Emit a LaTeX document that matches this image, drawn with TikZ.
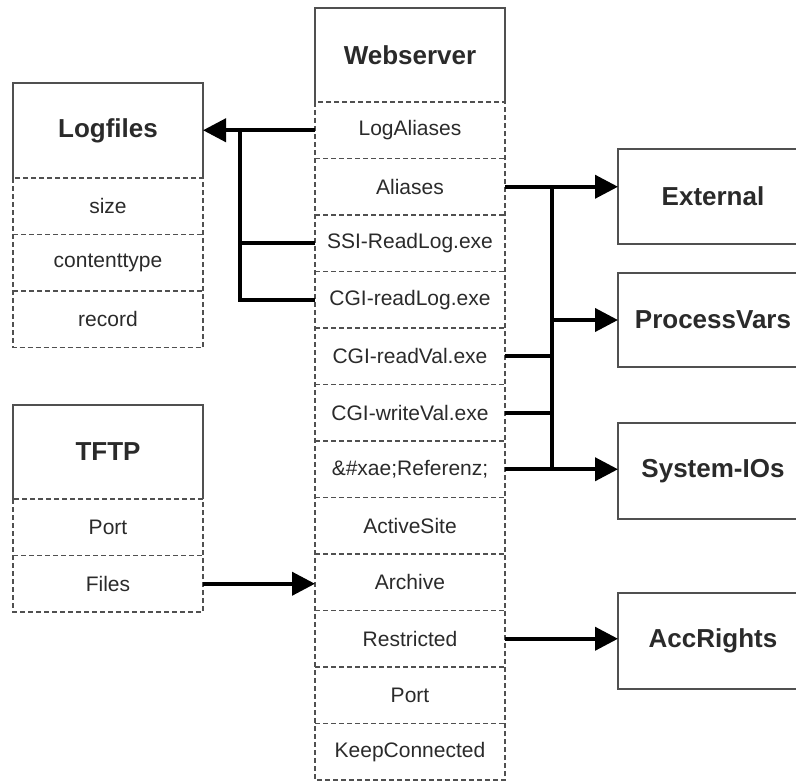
\documentclass[tikz,border=0pt]{standalone}
\usepackage{fontspec}
\setmainfont{Liberation Sans}
\usetikzlibrary{arrows.meta}
\definecolor{bordergray}{HTML}{505050}
\definecolor{textgray}{HTML}{2A2A2A}
\tikzset{
  hdr/.style={minimum width=190pt, minimum height=95pt, inner sep=0pt, outer sep=0pt, anchor=north west,
    font=\fontsize{26}{30}\selectfont\bfseries, text=textgray},
  boxed/.style={hdr, draw=bordergray, line width=1.5pt},
  rowbox/.style={minimum width=190pt, minimum height=56.5pt, inner sep=0pt, outer sep=0pt, anchor=north,
    font=\fontsize{21}{25}\selectfont, text=textgray},
  dashline/.style={draw=bordergray, line width=1.3pt, dash pattern=on 5pt off 3pt},
  hdredge/.style={draw=bordergray, line width=1.5pt},
  conn/.style={line width=4pt, black},
  arr/.style={conn, -{Triangle[length=23pt,width=23pt]}},
}
\begin{document}
\begin{tikzpicture}[x=1pt, y=-1pt]
\useasboundingbox (0,0) rectangle (796,784);
\clip (0,0) rectangle (796,784);

% Webserver
\node[hdr, minimum height=94pt] (ws) at (315,8) {Webserver};
\draw[hdredge] (ws.south west) |- (ws.north east) -- (ws.south east);
\node[rowbox] (w1) at (ws.south) {LogAliases};
\node[rowbox] (w2) at (w1.south) {Aliases};
\node[rowbox] (w3) at (w2.south) {SSI-ReadLog.exe};
\node[rowbox] (w4) at (w3.south) {CGI-readLog.exe};
\node[rowbox] (w5) at (w4.south) {CGI-readVal.exe};
\node[rowbox] (w6) at (w5.south) {CGI-writeVal.exe};
\node[rowbox] (w7) at (w6.south) {\&\#xae;Referenz;};
\node[rowbox] (w8) at (w7.south) {ActiveSite};
\node[rowbox] (w9) at (w8.south) {Archive};
\node[rowbox] (w10) at (w9.south) {Restricted};
\node[rowbox] (w11) at (w10.south) {Port};
\node[rowbox] (w12) at (w11.south) {KeepConnected};
\draw[dashline] (w1.north west) rectangle (w12.south east);
\foreach \i in {1,...,11} {
  \draw[dashline] (w\i.south west) -- (w\i.south east);
}

% Logfiles
\node[hdr] (lf) at (13,83) {Logfiles};
\draw[hdredge] (lf.south west) |- (lf.north east) -- (lf.south east);
\node[rowbox] (l1) at (lf.south) {size};
\node[rowbox] (l2) at (l1.south) {contenttype};
\node[rowbox] (l3) at (l2.south) {record};
\draw[dashline] (l1.north west) rectangle (l3.south east);
\foreach \i in {1,2} {
  \draw[dashline] (l\i.south west) -- (l\i.south east);
}

% TFTP
\node[hdr, minimum height=94pt] (tf) at (13,405) {TFTP};
\draw[hdredge] (tf.south west) |- (tf.north east) -- (tf.south east);
\node[rowbox] (t1) at (tf.south) {Port};
\node[rowbox] (t2) at (t1.south) {Files};
\draw[dashline] (t1.north west) rectangle (t2.south east);
\draw[dashline] (t1.south west) -- (t1.south east);

% Right boxes
\node[boxed] (ext) at (618,149) {External};
\node[boxed, minimum height=94pt] (pv) at (618,273) {ProcessVars};
\node[boxed, minimum height=96pt] (sys) at (618,423) {System-IOs};
\node[boxed, minimum height=96pt] (acc) at (618,593) {AccRights};

% bus coordinates
\coordinate (lb) at (240,0);
\coordinate (rb) at (552,0);

% Left connectors to Logfiles
\draw[arr] (w1.west) -- (w1.west -| lf.east);
\draw[conn] (w4.west) -| (lb |- w1.west);
\draw[conn] (w3.west) -- (lb |- w3.west);

% Right connectors
\draw[arr] (w2.east) -- (w2.east -| ext.west);
\draw[arr] (w7.east) -- (w7.east -| sys.west);
\draw[conn] (rb |- w2.east) -- (rb |- w7.east);
\draw[conn] (w5.east) -- (rb |- w5.east);
\draw[conn] (w6.east) -- (rb |- w6.east);
\draw[arr] (rb |- pv.west) -- (pv.west);

% TFTP Files -> Archive
\draw[arr] (t2.east) -- (t2.east -| w9.west);

% Restricted -> AccRights
\draw[arr] (w10.east) -- (w10.east -| acc.west);
\end{tikzpicture}
\end{document}
